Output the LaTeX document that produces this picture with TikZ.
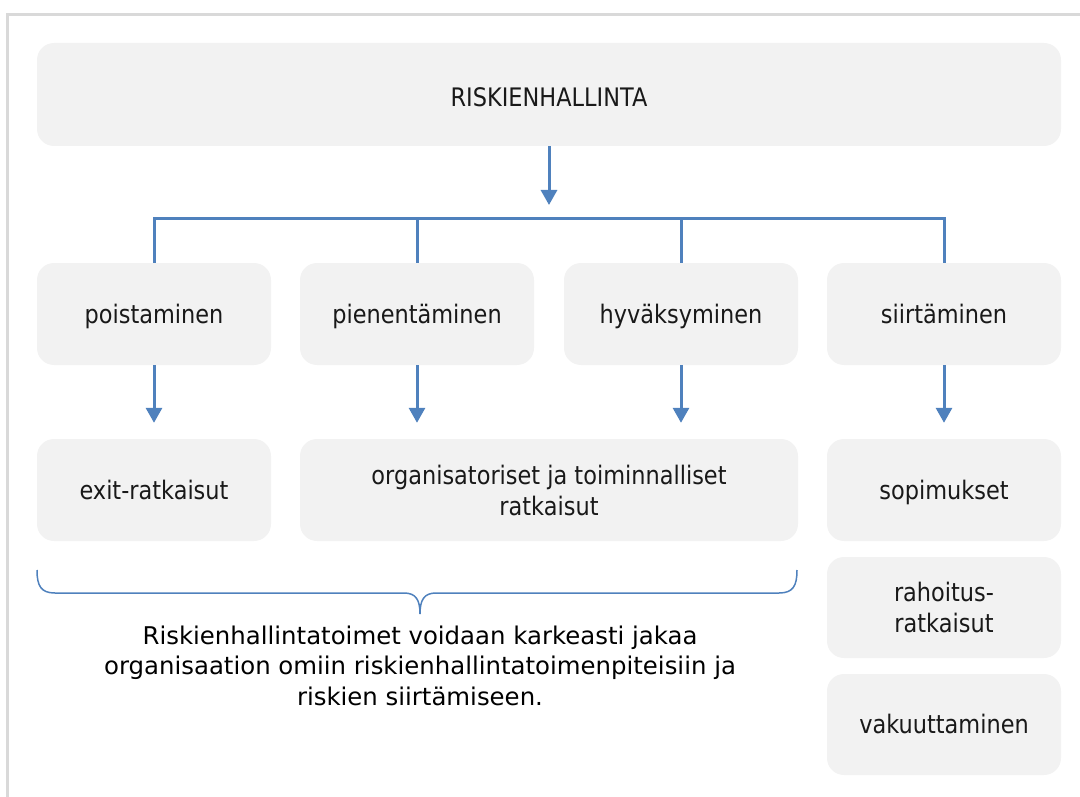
\documentclass[tikz,border=0pt]{standalone}
\usepackage{fontspec}
\setmainfont{DejaVu Sans}
\newfontfamily\boxfont{DejaVu Sans}[FakeStretch=0.88]
\usetikzlibrary{arrows.meta}
\definecolor{boxgray}{HTML}{F2F2F2}
\definecolor{linkblue}{HTML}{4F81BD}
\definecolor{framegray}{HTML}{D9D9D9}
\begin{document}
\begin{tikzpicture}[x=1pt,y=-1pt,
  box/.style={fill=boxgray, rounded corners=17pt, inner sep=0pt, align=center,
    minimum width=234pt, minimum height=102pt,
    font=\boxfont\fontsize{25.5}{31}\selectfont, text=black!90},
  oneline/.style={text height=18pt, text depth=0pt},
  link/.style={draw=linkblue, line width=3pt},
  arr/.style={link, -{Triangle[width=16pt,length=15pt]}},
  brace/.style={draw=linkblue, line width=1.5pt}]
\useasboundingbox (0,0) rectangle (1080,797);
% outer frame (top and left edges)
\draw[framegray, line width=3pt] (7.5,797) -- (7.5,14.5) -- (1080,14.5);

% boxes
\node[box, minimum width=1024pt, minimum height=103pt, text height=25pt, text depth=0pt] (top) at (549,94.5) {RISKIENHALLINTA};
\node[box, oneline] (b1) at (154,314) {poistaminen};
\node[box, oneline] (b2) at (417,314) {pienentäminen};
\node[box, oneline] (b3) at (681,314) {hyväksyminen};
\node[box, oneline] (b4) at (944,314) {siirtäminen};
\node[box, oneline] (c1) at (154,490) {exit-ratkaisut};
\node[box, minimum width=498pt] (c2) at (549,490) {organisatoriset ja toiminnalliset\\ratkaisut};
\node[box, oneline] (c3) at (944,490) {sopimukset};
\node[box, minimum height=101pt] (d3) at (944,607.5) {rahoitus-\\ratkaisut};
\node[box, oneline, minimum height=101pt] (e3) at (944,724.5) {vakuuttaminen};

% connectors
\coordinate (toptip) at (549,205);
\coordinate (bar) at (549,219);
\draw[arr] (top.south) -- (toptip);
\draw[link] (b1.north) -- (b1.north |- bar) -- (b4.north |- bar) -- (b4.north);
\draw[link] (b2.north) -- (b2.north |- bar);
\draw[link] (b3.north) -- (b3.north |- bar);
\draw[arr, shorten >=16pt] (b1.south) -- (c1.north);
\draw[arr, shorten >=16pt] (b2.south) -- (b2.south |- c2.north);
\draw[arr, shorten >=16pt] (b3.south) -- (b3.south |- c2.north);
\draw[arr, shorten >=16pt] (b4.south) -- (c3.north);

% brace under the organisation's own measures
\coordinate (bl) at (37,570);
\coordinate (br) at (797,570);
\coordinate (btip) at (420,614);
\draw[brace] (bl) .. controls (37,586) and (41,593) .. (55,593) -- (404,593)
  .. controls (416,593) and (420,600) .. (btip);
\draw[brace] (br) .. controls (797,586) and (793,593) .. (779,593) -- (436,593)
  .. controls (424,593) and (420,600) .. (btip);

\node[align=center, font=\fontsize{24.4}{30.5}\selectfont, text=black, anchor=north] (cap) at (btip |- 0,622)
  {Riskienhallintatoimet voidaan karkeasti jakaa\\organisaation omiin riskienhallintatoimenpiteisiin ja\\riskien siirtämiseen.};
\end{tikzpicture}
\end{document}
